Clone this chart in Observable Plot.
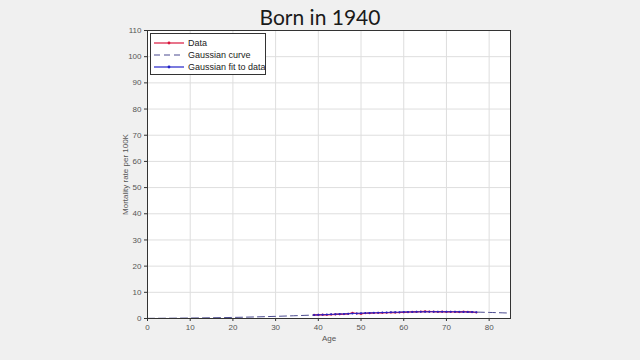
<!DOCTYPE html>
<html>
<head>
<meta charset="utf-8">
<script src="https://cdn.jsdelivr.net/npm/d3@7"></script>
<script src="https://cdn.jsdelivr.net/npm/@observablehq/plot@0.6"></script>
<style>
  html, body { margin:0; padding:0; background:#f0f0f0; }
  #wrap { position:relative; width:640px; height:360px; overflow:hidden; }
  #title { position:absolute; left:0; top:4px; width:640px; text-align:center; font-family:Lato, "Open Sans", sans-serif; font-size:21px; color:#1a1a1a; }
  #legend { position:absolute; left:150px; top:33px; width:116px; height:42px; background:#fff; border:1px solid #333; box-sizing:border-box; font-family:"Liberation Sans", Arial, sans-serif; font-size:9px; color:#222; padding-top:3px; }
  .item { display:flex; align-items:center; height:12px; padding-left:2px; white-space:nowrap; }
  .item svg { margin-right:3px; flex:none; }
</style>
</head>
<body>
<div id="wrap">
  <div id="chart"></div>
  <div id="title">Born in 1940</div>
  <div id="legend"></div>
</div>
<script>
const ages = [39,40,41,42,43,44,45,46,47,48,49,50,51,52,53,54,55,56,57,58,59,60,61,62,63,64,65,66,67,68,69,70,71,72,73,74,75,76,77];
const dataRate = [1.35,1.4,1.45,1.4,1.5,1.55,1.6,1.7,1.8,2.2,1.9,1.8,2.0,2.0,2.1,2.2,2.15,2.2,2.3,2.25,2.3,2.35,2.4,2.5,2.55,2.6,2.7,2.65,2.6,2.55,2.6,2.5,2.55,2.5,2.45,2.6,2.5,2.4,2.3];
const fitRate = [1.33,1.39,1.45,1.51,1.58,1.64,1.70,1.76,1.83,1.89,1.95,2.01,2.06,2.12,2.17,2.22,2.27,2.31,2.35,2.39,2.43,2.47,2.50,2.52,2.54,2.56,2.58,2.59,2.59,2.60,2.60,2.59,2.58,2.57,2.55,2.53,2.50,2.47,2.43];
const curveAge = [0,5,10,15,20,25,30,35,40,45,50,55,60,65,70,75,80,85];
const curveRate = [0.06,0.11,0.18,0.28,0.41,0.59,0.82,1.09,1.39,1.70,2.01,2.27,2.47,2.58,2.59,2.50,2.32,2.06];
const xTicks = [0,10,20,30,40,50,60,70,80];
const yTicks = [0,10,20,30,40,50,60,70,80,90,100,110];
const legendLabels = ["Data","Gaussian curve","Gaussian fit to data"];

const dataRows = ages.map((a,i)=>({age:a, rate:dataRate[i]}));
const fitRows = ages.map((a,i)=>({age:a, rate:fitRate[i]}));
const curveRows = curveAge.map((a,i)=>({age:a, rate:curveRate[i]}));

const cData = "#d9163d", cCurve = "#4b4b8f", cFit = "#2222c8";

const chart = Plot.plot({
  width:640, height:360,
  marginLeft:147, marginRight:130, marginTop:30, marginBottom:42,
  style:{background:"transparent", fontFamily:"'Liberation Sans', Arial, sans-serif", fontSize:"8px", color:"#555"},
  x:{domain:[0,85]},
  y:{domain:[0,110]},
  marks:[
    Plot.frame({fill:"white"}),
    Plot.gridX(xTicks,{stroke:"#dedede", strokeOpacity:1}),
    Plot.gridY(yTicks,{stroke:"#dedede", strokeOpacity:1}),
    Plot.line(curveRows,{x:"age", y:"rate", stroke:cCurve, strokeWidth:1, strokeDasharray:"7,4", curve:"monotone-x"}),
    Plot.line(dataRows,{x:"age", y:"rate", stroke:cData, strokeWidth:1.2}),
    Plot.dot(dataRows,{x:"age", y:"rate", fill:cData, r:1.1, stroke:"none"}),
    Plot.line(fitRows,{x:"age", y:"rate", stroke:cFit, strokeWidth:1, strokeOpacity:0.85}),
    Plot.dot(fitRows,{x:"age", y:"rate", fill:cFit, r:1, stroke:"none"}),
    Plot.axisX({ticks:xTicks, tickSize:3, tickPadding:3, label:"Age", labelAnchor:"center", labelArrow:"none", labelOffset:22, stroke:"#333"}),
    Plot.axisY({ticks:yTicks, tickSize:3, tickPadding:3, label:"Mortality rate per 100K", labelAnchor:"center", labelArrow:"none", labelOffset:25, stroke:"#333"}),
    Plot.frame({stroke:"#333", strokeWidth:1})
  ]
});
document.getElementById("chart").appendChild(chart);

// legend
const legend = document.getElementById("legend");
const styles = [
  {color:cData, dash:null, dot:true},
  {color:cCurve, dash:"6,4", dot:false},
  {color:cFit, dash:null, dot:true}
];
legendLabels.forEach((lab,i)=>{
  const s = styles[i];
  const div = document.createElement("div");
  div.className = "item";
  div.innerHTML = `<svg width="32" height="8"><line x1="1" x2="31" y1="4" y2="4" stroke="${s.color}" stroke-width="1.2" ${s.dash?`stroke-dasharray="${s.dash}"`:""}/>${s.dot?`<circle cx="16" cy="4" r="1.4" fill="${s.color}"/>`:""}</svg><span>${lab}</span>`;
  legend.appendChild(div);
});
</script>
</body>
</html>
